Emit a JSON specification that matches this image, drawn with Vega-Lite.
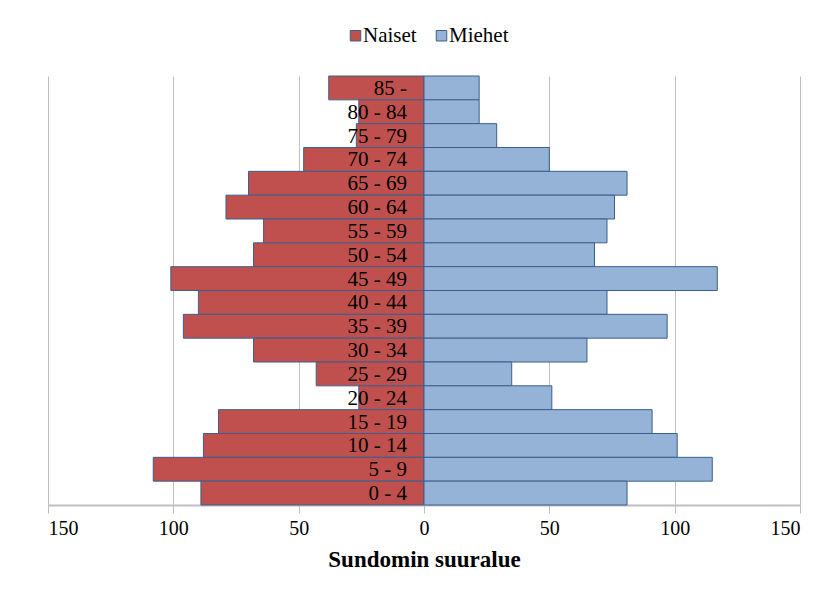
{
  "$schema": "https://vega.github.io/schema/vega-lite/v6.json",
  "autosize": {"type": "none"},
  "width": 752,
  "height": 429,
  "padding": {"left": 48, "top": 76, "right": 29, "bottom": 94},
  "background": "white",
  "config": {
    "view": {"stroke": null},
    "font": "Liberation Serif"
  },
  "data": {
    "values": [
      {"ika": "85 -", "sukupuoli": "Naiset", "arvo": -38},
      {"ika": "80 - 84", "sukupuoli": "Naiset", "arvo": -26},
      {"ika": "75 - 79", "sukupuoli": "Naiset", "arvo": -27},
      {"ika": "70 - 74", "sukupuoli": "Naiset", "arvo": -48},
      {"ika": "65 - 69", "sukupuoli": "Naiset", "arvo": -70},
      {"ika": "60 - 64", "sukupuoli": "Naiset", "arvo": -79},
      {"ika": "55 - 59", "sukupuoli": "Naiset", "arvo": -64},
      {"ika": "50 - 54", "sukupuoli": "Naiset", "arvo": -68},
      {"ika": "45 - 49", "sukupuoli": "Naiset", "arvo": -101},
      {"ika": "40 - 44", "sukupuoli": "Naiset", "arvo": -90},
      {"ika": "35 - 39", "sukupuoli": "Naiset", "arvo": -96},
      {"ika": "30 - 34", "sukupuoli": "Naiset", "arvo": -68},
      {"ika": "25 - 29", "sukupuoli": "Naiset", "arvo": -43},
      {"ika": "20 - 24", "sukupuoli": "Naiset", "arvo": -26},
      {"ika": "15 - 19", "sukupuoli": "Naiset", "arvo": -82},
      {"ika": "10 - 14", "sukupuoli": "Naiset", "arvo": -88},
      {"ika": "5 - 9", "sukupuoli": "Naiset", "arvo": -108},
      {"ika": "0 - 4", "sukupuoli": "Naiset", "arvo": -89},
      {"ika": "85 -", "sukupuoli": "Miehet", "arvo": 22},
      {"ika": "80 - 84", "sukupuoli": "Miehet", "arvo": 22},
      {"ika": "75 - 79", "sukupuoli": "Miehet", "arvo": 29},
      {"ika": "70 - 74", "sukupuoli": "Miehet", "arvo": 50},
      {"ika": "65 - 69", "sukupuoli": "Miehet", "arvo": 81},
      {"ika": "60 - 64", "sukupuoli": "Miehet", "arvo": 76},
      {"ika": "55 - 59", "sukupuoli": "Miehet", "arvo": 73},
      {"ika": "50 - 54", "sukupuoli": "Miehet", "arvo": 68},
      {"ika": "45 - 49", "sukupuoli": "Miehet", "arvo": 117},
      {"ika": "40 - 44", "sukupuoli": "Miehet", "arvo": 73},
      {"ika": "35 - 39", "sukupuoli": "Miehet", "arvo": 97},
      {"ika": "30 - 34", "sukupuoli": "Miehet", "arvo": 65},
      {"ika": "25 - 29", "sukupuoli": "Miehet", "arvo": 35},
      {"ika": "20 - 24", "sukupuoli": "Miehet", "arvo": 51},
      {"ika": "15 - 19", "sukupuoli": "Miehet", "arvo": 91},
      {"ika": "10 - 14", "sukupuoli": "Miehet", "arvo": 101},
      {"ika": "5 - 9", "sukupuoli": "Miehet", "arvo": 115},
      {"ika": "0 - 4", "sukupuoli": "Miehet", "arvo": 81}
    ]
  },
  "encoding": {
    "y": {
      "field": "ika",
      "type": "nominal",
      "sort": ["85 -", "80 - 84", "75 - 79", "70 - 74", "65 - 69", "60 - 64", "55 - 59", "50 - 54", "45 - 49", "40 - 44", "35 - 39", "30 - 34", "25 - 29", "20 - 24", "15 - 19", "10 - 14", "5 - 9", "0 - 4"],
      "scale": {"paddingInner": 0, "paddingOuter": 0},
      "axis": null
    }
  },
  "layer": [
    {
      "mark": {"type": "bar", "stroke": "#3B5E8C", "strokeWidth": 1},
      "encoding": {
        "x": {
          "field": "arvo",
          "type": "quantitative",
          "scale": {"domain": [-150, 150], "nice": false, "zero": false},
          "axis": {
            "values": [-150, -100, -50, 0, 50, 100, 150],
            "labelExpr": "abs(datum.value)",
            "grid": true,
            "gridColor": "#BFBFBF",
            "gridWidth": 1,
            "domainColor": "#BFBFBF",
            "domainWidth": 2,
            "tickColor": "#BFBFBF",
            "tickSize": 8,
            "labelFont": "Liberation Serif",
            "labelFontSize": 20,
            "labelColor": "black",
            "labelPadding": 5,
            "title": "Sundomin suuralue",
            "titleFont": "Liberation Serif",
            "titleFontSize": 23,
            "titleFontWeight": "bold",
            "titleColor": "black",
            "titlePadding": 10
          }
        },
        "color": {
          "field": "sukupuoli",
          "type": "nominal",
          "scale": {"domain": ["Naiset", "Miehet"], "range": ["#C0504D", "#95B3D7"]},
          "legend": {
            "title": null,
            "orient": "none",
            "direction": "horizontal",
            "legendX": 297,
            "legendY": -51,
            "symbolType": "square",
            "symbolSize": 110,
            "symbolStrokeColor": "#3B5E8C",
            "symbolStrokeWidth": 1,
            "labelFont": "Liberation Serif",
            "labelFontSize": 21,
            "labelColor": "black",
            "labelOffset": -3,
            "columnPadding": 14
          }
        }
      }
    },
    {
      "mark": {"type": "rule", "color": "#A6A6A6", "strokeWidth": 1},
      "encoding": {"x": {"datum": 0}}
    },
    {
      "transform": [{"filter": "datum.sukupuoli == 'Naiset'"}],
      "mark": {"type": "text", "align": "right", "baseline": "middle", "dx": -17, "dy": 1, "font": "Liberation Serif", "fontSize": 21, "color": "black"},
      "encoding": {
        "x": {"datum": 0},
        "text": {"field": "ika"}
      }
    }
  ]
}
